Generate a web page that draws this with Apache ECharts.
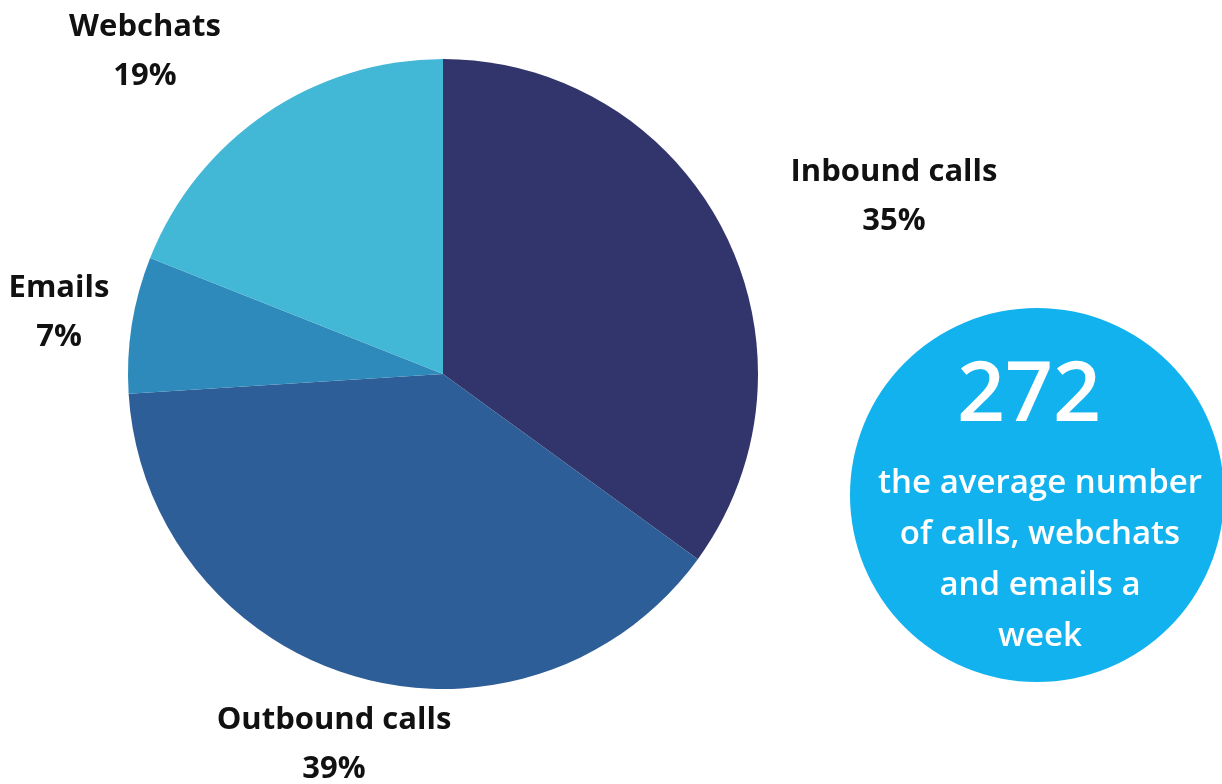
<!DOCTYPE html>
<html><head><meta charset="utf-8">
<script src="https://cdn.jsdelivr.net/npm/echarts@6/dist/echarts.min.js"></script>
<style>html,body{margin:0;padding:0;background:#fff}#c{width:1222px;height:784px}</style>
</head><body><div id="c"></div>
<script>
const categories = ['Inbound calls', 'Outbound calls', 'Emails', 'Webchats'];
const shares = [35, 39, 7, 19];
const colors = ['#31356b', '#2e5e97', '#2e8aba', '#42b7d6'];
const statValue = '272';
const statText = ['the average number', 'of calls, webchats', 'and emails a', 'week'];
const labelPos = [[894, 197], [334, 745], [59, 313], [145, 52]];

const chart = echarts.init(document.getElementById('c'));
const font = '"Open Sans", Lato, sans-serif';
chart.setOption({
  animation: false,
  series: [{
    type: 'pie',
    center: [443, 374],
    radius: 315,
    startAngle: 90,
    clockwise: true,
    silent: true,
    data: categories.map((n, i) => ({ name: n, value: shares[i], itemStyle: { color: colors[i] } })),
    label: {
      show: true, position: 'inside', formatter: '{b}\n{c}%', overflow: 'none',
      color: '#111', fontFamily: font, fontWeight: 'bold', fontSize: 31, lineHeight: 49, align: 'center'
    },
    labelLine: { show: false },
    labelLayout: (p) => ({ x: labelPos[p.dataIndex][0], y: labelPos[p.dataIndex][1], align: 'center', verticalAlign: 'middle' })
  }],
  graphic: [
    { type: 'circle', shape: { cx: 1037, cy: 495, r: 187 }, style: { fill: '#12b2ee' }, z: 1 },
    { type: 'text', x: 1029, y: 397, z: 2, style: { text: statValue, fill: '#fff', font: '600 84px ' + font, textAlign: 'center', textVerticalAlign: 'middle' } },
    { type: 'text', x: 1040, y: 560, z: 2, style: { text: statText.join('\n'), fill: '#fff', font: '600 33px ' + font, lineHeight: 51, textAlign: 'center', textVerticalAlign: 'middle' } }
  ]
});
</script></body></html>
